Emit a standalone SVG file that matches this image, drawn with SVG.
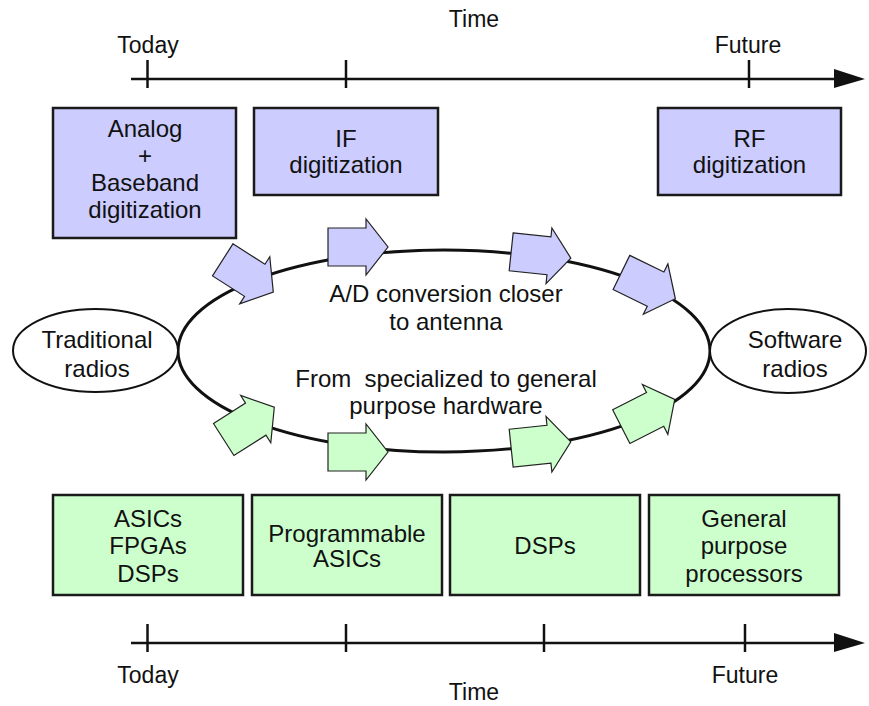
<svg xmlns="http://www.w3.org/2000/svg" xmlns:xlink="http://www.w3.org/1999/xlink" width="869" height="706" viewBox="0 0 869 706">
<style>
text{font-family:"Liberation Sans",Arial,sans-serif;font-size:24px;fill:#111;text-anchor:middle}
.ax{font-size:23px}
.box{stroke:#1a1a1a;stroke-width:2.5}
.blue{fill:#ccccff}
.green{fill:#ccffcc}
.line{stroke:#111;stroke-width:2.5;fill:none}
.arr{stroke:#222;stroke-width:1.2}
.oval{fill:#fff;stroke:#111;stroke-width:2}
</style>
<defs>
<polygon id="barrow" points="-30,-19 8,-19 8,-28 30,0 8,28 8,19 -30,19"/>
</defs>
<rect width="869" height="706" fill="#fff"/>

<g id="axis-top">
<line class="line" x1="131" y1="79" x2="838" y2="79"/>
<polygon points="834,69 865,79 834,88" fill="#111"/>
<line class="line" x1="147.5" y1="60" x2="147.5" y2="88"/>
<line class="line" x1="346" y1="60" x2="346" y2="88"/>
<line class="line" x1="749" y1="60" x2="749" y2="88"/>
<text class="ax" x="474" y="27">Time</text>
<text class="ax" x="148" y="53">Today</text>
<text class="ax" x="748" y="53">Future</text>
</g>

<g id="axis-bottom">
<line class="line" x1="131" y1="643" x2="838" y2="643"/>
<polygon points="834,633 865,643 834,652" fill="#111"/>
<line class="line" x1="147.5" y1="624" x2="147.5" y2="652"/>
<line class="line" x1="346" y1="624" x2="346" y2="652"/>
<line class="line" x1="544" y1="624" x2="544" y2="652"/>
<line class="line" x1="745" y1="624" x2="745" y2="652"/>
<text class="ax" x="148" y="683">Today</text>
<text class="ax" x="745" y="683">Future</text>
<text class="ax" x="474" y="700">Time</text>
</g>

<g id="box-analog">
<rect class="box blue" x="53" y="108" width="183" height="130"/>
<text x="145" y="137">Analog</text>
<text x="145" y="164">+</text>
<text x="145" y="191">Baseband</text>
<text x="145" y="218">digitization</text>
</g>
<g id="box-if">
<rect class="box blue" x="254" y="108" width="184" height="87"/>
<text x="346" y="147">IF</text>
<text x="346" y="173">digitization</text>
</g>
<g id="box-rf">
<rect class="box blue" x="658" y="108" width="183" height="87"/>
<text x="749.5" y="147">RF</text>
<text x="749.5" y="173">digitization</text>
</g>

<g id="connectors">
<ellipse cx="444" cy="351" rx="266" ry="101" fill="none" stroke="#111" stroke-width="3"/>
<use xlink:href="#barrow" class="blue arr" transform="translate(248,276) rotate(32.5)"/>
<use xlink:href="#barrow" class="blue arr" transform="translate(358,247)"/>
<use xlink:href="#barrow" class="blue arr" transform="translate(541,255) rotate(6)"/>
<use xlink:href="#barrow" class="blue arr" transform="translate(648.4,285.6) rotate(26)"/>
<use xlink:href="#barrow" class="green arr" transform="translate(249,423.4) rotate(-32.5)"/>
<use xlink:href="#barrow" class="green arr" transform="translate(358,452)"/>
<use xlink:href="#barrow" class="green arr" transform="translate(541,445) rotate(-6)"/>
<use xlink:href="#barrow" class="green arr" transform="translate(648,413) rotate(-27)"/>
</g>

<g id="label-ad">
<text x="446" y="302">A/D conversion closer</text>
<text x="446" y="330">to antenna</text>
</g>
<g id="label-hw">
<text x="446" y="387" xml:space="preserve">From  specialized to general</text>
<text x="446" y="414">purpose hardware</text>
</g>

<g id="node-traditional">
<ellipse class="oval" cx="95.5" cy="350.5" rx="82.5" ry="41.5"/>
<text x="97" y="348">Traditional</text>
<text x="97" y="377">radios</text>
</g>
<g id="node-software">
<ellipse class="oval" cx="788" cy="351" rx="78" ry="42"/>
<text x="795" y="348">Software</text>
<text x="795" y="377">radios</text>
</g>

<g id="box-asics">
<rect class="box green" x="53" y="495" width="190" height="100"/>
<text x="148" y="527">ASICs</text>
<text x="148" y="554">FPGAs</text>
<text x="148" y="582">DSPs</text>
</g>
<g id="box-prog">
<rect class="box green" x="252" y="495" width="190" height="100"/>
<text x="347" y="542">Programmable</text>
<text x="347" y="567">ASICs</text>
</g>
<g id="box-dsps">
<rect class="box green" x="450" y="495" width="190" height="100"/>
<text x="545" y="554">DSPs</text>
</g>
<g id="box-gpp">
<rect class="box green" x="649" y="495" width="190" height="100"/>
<text x="744" y="527">General</text>
<text x="744" y="554">purpose</text>
<text x="744" y="582">processors</text>
</g>
</svg>
